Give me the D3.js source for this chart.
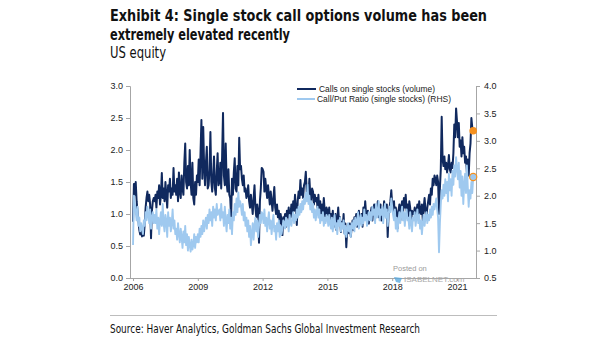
<!DOCTYPE html>
<html><head><meta charset="utf-8">
<script src="https://cdn.jsdelivr.net/npm/d3@7"></script>
<style>
body{margin:0;background:#fff;}
svg{display:block;}
.ttl{font-family:"Liberation Sans Narrow","DejaVu Sans Condensed","Arial Narrow",sans-serif;font-stretch:condensed;fill:#111;}
.tick text{font-family:"Liberation Sans",Arial,sans-serif;font-size:9px;fill:#222;}
.leg{font-family:"Liberation Sans",Arial,sans-serif;font-size:8.5px;fill:#222;}
</style></head>
<body>
<svg id="c" width="605" height="341"></svg>
<script>
// ---- data ----
const startYear = 2006;
const pointsPerYear = 24;
const callsVolume = [ // LHS, semi-monthly
 // 2006
 0.88,1.47,1.30,1.50,1.20,1.05,0.90,0.75,0.68,0.80,0.65,0.72,0.66,0.85,1.10,1.25,1.35,1.20,1.30,1.15,0.62,1.05,1.20,1.25,
 // 2007
 1.20,1.30,1.10,1.35,1.25,1.45,1.15,1.30,1.64,1.25,1.40,1.20,1.50,1.30,1.10,1.45,1.35,1.55,1.25,1.40,1.30,1.72,1.35,1.45,
 // 2008
 1.30,1.55,1.20,1.65,1.35,1.25,1.60,1.40,1.30,1.80,2.10,1.50,1.40,1.75,1.45,2.00,1.50,1.30,1.80,1.25,1.15,1.50,1.30,1.60,
 // 2009
 1.50,1.85,1.45,1.95,2.47,1.55,2.36,1.75,1.45,1.80,2.05,1.40,1.45,1.70,2.28,1.50,1.35,1.60,1.90,1.40,1.30,1.65,1.95,1.45,
 // 2010
 1.50,1.80,1.40,1.90,2.58,1.60,1.45,2.10,1.50,1.35,1.70,1.30,1.25,0.95,1.55,1.30,1.65,1.87,1.40,1.35,1.75,1.45,2.19,1.70,
 // 2011
 1.75,1.55,1.45,1.60,1.35,1.40,1.25,1.30,1.45,1.20,1.10,1.30,1.15,1.00,1.25,1.45,1.10,0.95,1.15,1.05,0.55,1.20,1.40,1.72,
 // 2012
 1.70,1.66,1.35,1.55,1.40,1.25,1.45,1.30,1.15,1.35,1.20,1.05,1.25,1.42,1.10,1.00,1.15,0.95,1.05,0.85,1.00,0.90,0.67,0.95,
 // 2013
 0.90,1.00,0.80,1.05,0.95,1.10,0.85,1.00,1.15,0.95,1.20,1.05,1.30,1.10,0.83,1.20,1.35,1.25,1.53,1.30,1.40,1.25,1.45,1.50,
 // 2014
 1.66,1.35,1.45,1.25,1.55,1.30,1.20,1.40,1.35,1.15,1.30,1.20,1.25,1.10,1.30,1.05,1.20,0.95,1.15,1.00,1.25,1.05,0.90,1.10,
 // 2015
 1.05,0.95,1.10,0.85,1.00,0.90,1.05,0.80,0.95,1.00,0.75,0.90,1.10,0.85,0.95,0.72,0.88,0.80,1.00,0.70,0.85,0.48,0.75,0.82,
 // 2016
 0.70,0.85,0.65,0.80,0.90,0.75,0.95,0.85,1.00,0.80,0.90,1.05,0.85,0.95,1.00,0.80,1.10,0.95,1.20,1.00,0.90,1.05,0.85,1.00,
 // 2017
 1.00,1.10,0.90,1.05,1.15,0.95,1.10,1.00,1.20,0.95,1.05,1.15,0.90,1.10,1.00,1.20,1.05,0.95,1.15,0.64,1.00,1.10,1.20,1.37,
 // 2018
 1.15,1.05,1.20,0.95,1.10,1.00,0.78,1.05,1.15,0.90,1.10,1.20,1.00,1.25,1.10,1.30,1.05,1.15,0.95,1.20,1.10,0.85,1.05,1.00,
 // 2019
 1.00,1.10,0.90,1.05,1.15,0.95,1.20,1.05,1.00,1.15,0.90,1.10,1.25,1.05,0.95,1.10,1.20,1.30,1.15,1.40,1.30,1.55,1.45,1.60,
 // 2020
 1.55,1.45,1.60,1.50,1.00,1.40,1.70,2.52,1.85,1.75,1.90,1.70,1.80,1.65,1.75,1.92,1.70,1.65,1.80,1.72,1.95,2.40,2.20,2.65,
 // 2021
 2.45,2.20,2.42,2.05,2.15,1.90,2.20,1.95,2.05,1.80,1.90,1.65,1.85,1.60,1.95,2.10,2.50,2.35,2.30
];
const callPutRatio = [ // RHS, semi-monthly
 // 2006
 1.10,2.00,1.85,1.70,1.55,1.80,1.45,1.60,1.35,1.50,1.40,1.30,1.55,1.45,1.70,1.55,1.80,1.65,1.50,1.75,1.40,1.60,1.70,1.50,
 // 2007
 1.65,1.50,1.75,1.40,1.60,1.30,1.55,1.70,1.45,1.85,1.50,1.35,1.65,1.55,1.25,1.70,1.45,1.60,1.35,1.50,1.75,1.40,1.55,1.30,
 // 2008
 1.40,1.20,1.50,1.30,1.15,1.40,1.25,1.05,1.35,1.15,1.45,1.10,1.30,1.00,1.25,1.10,0.98,1.20,1.02,1.10,1.30,1.05,1.25,1.15,
 // 2009
 1.30,1.15,1.40,1.25,1.45,1.30,1.55,1.35,1.50,1.60,1.40,1.65,1.50,1.75,1.55,1.70,1.45,1.80,1.60,1.75,1.55,1.85,1.65,1.70,
 // 2010
 1.75,1.55,1.85,1.60,1.70,1.45,1.80,1.55,1.35,1.65,1.50,1.75,1.40,1.60,1.30,1.70,1.55,1.85,1.65,1.95,1.70,2.06,1.80,1.90,
 // 2011
 1.80,1.65,1.85,1.55,1.70,1.45,1.60,1.35,1.55,1.25,1.45,1.10,1.30,1.50,1.20,1.45,1.60,1.35,1.55,1.25,1.45,1.65,1.50,1.70,
 // 2012
 1.65,1.50,1.75,1.45,1.60,1.35,1.55,1.70,1.40,1.55,1.30,1.50,1.65,1.35,1.45,1.20,1.50,1.35,1.55,1.25,1.45,1.30,1.40,1.55,
 // 2013
 1.50,1.40,1.60,1.45,1.55,1.35,1.65,1.50,1.45,1.60,1.70,1.50,1.65,1.55,1.75,1.60,1.80,1.65,1.85,1.70,1.90,1.75,1.95,1.85,
 // 2014
 2.05,1.90,2.20,1.85,2.00,1.75,1.90,1.70,1.85,1.60,1.75,1.55,1.70,1.80,1.60,1.75,1.50,1.65,1.55,1.70,1.45,1.60,1.50,1.65,
 // 2015
 1.60,1.45,1.65,1.50,1.40,1.60,1.35,1.55,1.65,1.40,1.50,1.30,1.55,1.45,1.60,1.35,1.50,1.40,1.55,1.30,1.45,1.25,1.40,1.50,
 // 2016
 1.35,1.45,1.25,1.50,1.40,1.55,1.35,1.60,1.45,1.50,1.70,1.40,1.55,1.65,1.45,1.60,1.50,1.75,1.55,1.65,1.45,1.60,1.70,1.55,
 // 2017
 1.70,1.55,1.80,1.65,1.75,1.50,1.85,1.60,1.70,1.90,1.55,1.75,1.65,1.80,1.50,1.70,1.85,1.60,1.75,1.45,1.65,1.80,1.70,1.95,
 // 2018
 1.80,1.65,1.55,1.75,1.40,1.60,1.35,1.55,1.70,1.50,1.65,1.80,1.55,1.70,1.45,1.65,1.75,1.55,1.60,1.40,1.70,1.50,1.35,1.60,
 // 2019
 1.55,1.70,1.45,1.60,1.75,1.50,1.65,1.40,1.55,1.30,1.50,1.65,1.45,1.60,1.70,1.50,1.65,1.55,1.75,1.60,1.80,1.65,1.85,1.75,
 // 2020
 1.85,1.95,1.75,1.60,0.97,1.50,1.85,2.10,1.95,2.20,2.00,2.30,2.05,2.25,1.90,2.40,2.10,2.30,2.00,2.45,2.20,2.55,2.35,2.70,
 // 2021
 2.50,2.30,2.60,2.15,2.45,2.00,2.35,1.85,2.20,2.40,2.05,2.55,2.15,1.80,2.10,1.95,2.25,2.05,2.34
];
const xTickYears = [2006, 2009, 2012, 2015, 2018, 2021];
const leftTicks = [0, 0.5, 1.0, 1.5, 2.0, 2.5, 3.0];
const rightTicks = [0.5, 1.0, 1.5, 2.0, 2.5, 3.0, 3.5, 4.0];
const seriesNames = ["Calls on single stocks (volume)", "Call/Put Ratio (single stocks) (RHS)"];
const titleLines = ["Exhibit 4: Single stock call options volume has been", "extremely elevated recently"];
const subtitle = "US equity";
const sourceText = "Source: Haver Analytics, Goldman Sachs Global Investment Research";

// ---- chart ----
const svg = d3.select("#c");
const darkCol = "#10295e", lightCol = "#9fc9ef", orange = "#f5901e";
const x = d3.scaleLinear().domain([2005.86, 2021.88]).range([130, 476]);
const yL = d3.scaleLinear().domain([0, 3]).range([278, 86]);
const yR = d3.scaleLinear().domain([0.5, 4]).range([278, 86]);
const dateOf = i => startYear + i / pointsPerYear;

// titles
svg.append("text").attr("class","ttl").attr("x",110).attr("y",21).attr("font-size",16).attr("font-weight","bold")
  .attr("textLength",377).attr("lengthAdjust","spacingAndGlyphs").text(titleLines[0]);
svg.append("text").attr("class","ttl").attr("x",110).attr("y",40).attr("font-size",16).attr("font-weight","bold")
  .attr("textLength",180).attr("lengthAdjust","spacingAndGlyphs").text(titleLines[1]);
svg.append("text").attr("class","ttl").attr("x",110).attr("y",58).attr("font-size",16)
  .attr("textLength",56).attr("lengthAdjust","spacingAndGlyphs").text(subtitle);

// axes
const axL = svg.append("g").attr("transform","translate(130,0)")
  .call(d3.axisLeft(yL).tickValues(leftTicks).tickFormat(d3.format(".1f")).tickSize(4).tickPadding(3));
const axR = svg.append("g").attr("transform","translate(476,0)")
  .call(d3.axisRight(yR).tickValues(rightTicks).tickFormat(d3.format(".1f")).tickSize(4).tickPadding(4));
const axB = svg.append("g").attr("transform","translate(0,278)")
  .call(d3.axisBottom(x).tickValues(xTickYears).tickFormat(d3.format("d")).tickSize(3).tickPadding(3));
[axL, axR, axB].forEach(a => { a.selectAll("path,line").attr("stroke","#a6a6a6"); });
axB.select(".domain").attr("d","M130,0.5H476");

// watermark
svg.append("text").attr("x",393).attr("y",271).attr("font-family","Liberation Sans, Arial, sans-serif")
  .attr("font-size",7.5).attr("fill","#9a9a9a").text("Posted on");
svg.append("text").attr("x",404).attr("y",281.5).attr("font-family","Liberation Sans, Arial, sans-serif")
  .attr("font-size",8).attr("fill","#a8a8a8").text("ISABELNET.com");
svg.append("path").attr("d","M394,277 l8,1 l-2,5 l-4,-1 z").attr("fill","#5aa9dd").attr("opacity",0.8);

// lines
const lineL = d3.line().x((d,i)=>x(dateOf(i))).y(d=>yL(d));
const lineR = d3.line().x((d,i)=>x(dateOf(i))).y(d=>yR(d));
svg.append("path").datum(callsVolume).attr("d",lineL).attr("fill","none").attr("stroke",darkCol)
  .attr("stroke-width",2).attr("stroke-linejoin","round");
svg.append("path").datum(callPutRatio).attr("d",lineR).attr("fill","none").attr("stroke",lightCol)
  .attr("stroke-width",1.9).attr("stroke-linejoin","round");

// end markers
const nL = callsVolume.length - 1, nR = callPutRatio.length - 1;
svg.append("circle").attr("cx",x(dateOf(nL))).attr("cy",yL(callsVolume[nL])).attr("r",3.8).attr("fill",orange);
svg.append("circle").attr("cx",x(dateOf(nR))).attr("cy",yR(callPutRatio[nR])).attr("r",3.6)
  .attr("fill",lightCol).attr("stroke",orange).attr("stroke-width",1.2);

// legend
const leg = svg.append("g");
leg.append("line").attr("x1",297).attr("x2",316).attr("y1",89).attr("y2",89).attr("stroke",darkCol).attr("stroke-width",2);
leg.append("text").attr("class","leg").attr("x",319).attr("y",92).attr("textLength",116).attr("lengthAdjust","spacingAndGlyphs").text(seriesNames[0]);
leg.append("line").attr("x1",297).attr("x2",315).attr("y1",99).attr("y2",99).attr("stroke",lightCol).attr("stroke-width",2);
leg.append("text").attr("class","leg").attr("x",317).attr("y",102).attr("textLength",134).attr("lengthAdjust","spacingAndGlyphs").text(seriesNames[1]);

// source
svg.append("line").attr("x1",110).attr("x2",497).attr("y1",315.5).attr("y2",315.5).attr("stroke","#bdbdbd");
svg.append("text").attr("class","ttl").attr("x",110).attr("y",333).attr("font-size",12)
  .attr("fill","#222").attr("textLength",310).attr("lengthAdjust","spacingAndGlyphs").text(sourceText);
</script>
</body></html>
